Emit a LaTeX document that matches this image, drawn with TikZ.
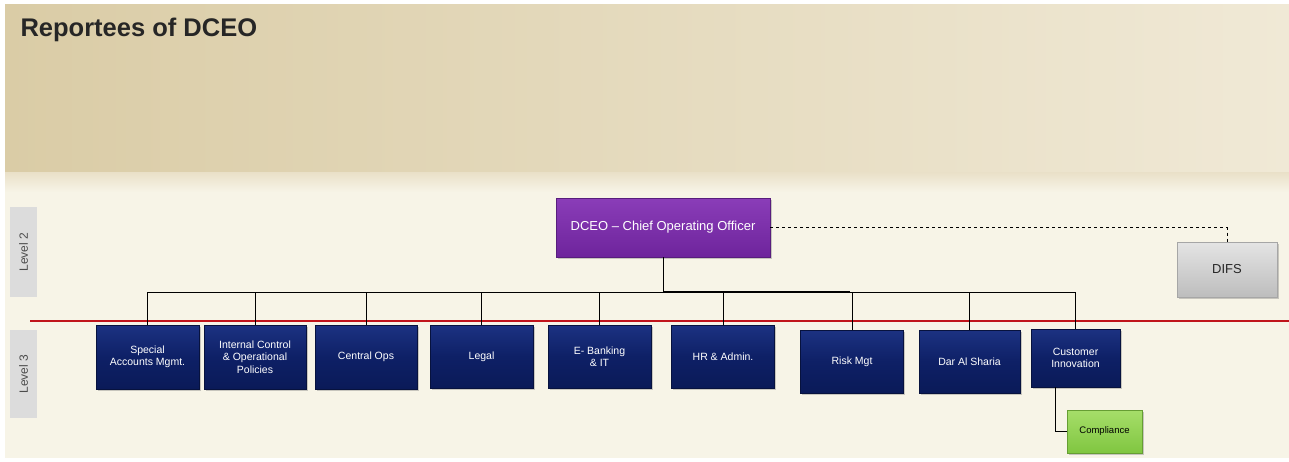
\documentclass[tikz,border=0pt]{standalone}
\usepackage{fontspec}
\setmainfont{Liberation Sans}
\usetikzlibrary{calc,shadows}
\definecolor{navyT}{HTML}{1C3282}
\definecolor{navyM}{HTML}{0E2066}
\definecolor{navyB}{HTML}{0A1A58}
\definecolor{purpT}{HTML}{8A3DB8}
\definecolor{purpB}{HTML}{6E249C}
\definecolor{grayT}{HTML}{E4E4E4}
\definecolor{grayB}{HTML}{BDBDBD}
\definecolor{grnT}{HTML}{A6DE6A}
\definecolor{grnB}{HTML}{80C640}
\definecolor{bgTanL}{HTML}{DACCA6}
\definecolor{bgTanR}{HTML}{F0E9D6}
\definecolor{bgLow}{HTML}{F7F4E7}
\definecolor{lvlgray}{HTML}{DCDCDC}
\definecolor{redline}{HTML}{C0141B}
\tikzset{
  base/.style={rectangle, align=center, inner sep=2pt, drop shadow={opacity=0.4, shadow xshift=1.5pt, shadow yshift=-1.5pt}},
  navybox/.style={base, top color=navyT, bottom color=navyB, middle color=navyM, draw=navyB!70!black, text=white, font=\fontsize{10.5}{12.5}\selectfont},
  lvl3/.style={navybox, minimum width=103pt, minimum height=64pt},
  dceobox/.style={base, top color=purpT, bottom color=purpB, draw=purpB!80!black, text=white, font=\fontsize{13}{15}\selectfont},
  graybox/.style={base, top color=grayT, bottom color=grayB, draw=gray!70, text=black!85, font=\fontsize{13}{15}\selectfont},
  grnbox/.style={base, top color=grnT, bottom color=grnB, draw=grnB!80!black, text=black, font=\fontsize{9.5}{11}\selectfont},
  lvlbox/.style={rectangle, fill=lvlgray, minimum width=27pt, text=black!70, font=\fontsize{12}{14}\selectfont},
  conn/.style={draw=black, line width=0.8pt},
}
\begin{document}
\begin{tikzpicture}[x=1pt,y=-1pt]
% background
\fill[white] (0,0) rectangle (1289,461);
\shade[left color=bgTanL, right color=bgTanR] (5,4) rectangle (1289,172);
\shade[top color=bgTanR!70!bgTanL, bottom color=bgLow] (5,172) rectangle (1289,192);
\fill[bgLow] (5,192) rectangle (1289,458);
\useasboundingbox (0,0) rectangle (1289,461);
% title
\node[anchor=west, font=\fontsize{25.5}{28}\bfseries\selectfont, text=black!85] (title) at (17,30) {Reportees of DCEO};
% level labels
\node[lvlbox, minimum height=90pt] (lv2) at (23.5,252) {\rotatebox{90}{Level 2}};
\node[lvlbox, minimum height=88pt] (lv3) at (23.5,374) {\rotatebox{90}{Level 3}};
% red line
\draw[redline, line width=1.4pt] (30,321) -- (1289,321);
% nodes
\node[dceobox, minimum width=214pt, minimum height=59pt] (dceo) at (663,227.5) {DCEO -- Chief Operating Officer};
\node[graybox, minimum width=100pt, minimum height=55pt] (difs) at (1227,269.5) {DIFS};
\node[lvl3] (sam) at (147.5,357) {Special\\Accounts Mgmt.};
\node[lvl3, minimum width=102pt] (icp) at (255,357) {Internal Control\\\& Operational\\Policies};
\node[lvl3, minimum width=102pt] (cops) at (366,357) {Central Ops};
\node[lvl3, minimum height=63pt] (legal) at (481.5,356.5) {Legal};
\node[lvl3, minimum height=63pt] (eb) at (599.5,356.5) {E- Banking\\\& IT};
\node[lvl3, minimum height=63pt] (hr) at (723,356.5) {HR \& Admin.};
\node[lvl3, minimum height=63pt] (risk) at (852,361.5) {Risk Mgt};
\node[lvl3, minimum width=101pt, minimum height=63pt] (dar) at (969.5,361.5) {Dar Al Sharia};
\node[lvl3, minimum width=89pt, minimum height=58pt] (ci) at (1075.5,358) {Customer\\Innovation};
\node[grnbox, minimum width=75pt, minimum height=43pt] (comp) at (1104.5,431.5) {Compliance};
% connectors
\coordinate (bus) at (663,292);
\draw[conn] (dceo.south) -- (bus);
\foreach \n in {sam,icp,cops,legal,eb,hr,risk,dar,ci}{
  \draw[conn] (\n.north) |- (bus);
}
\draw[conn, line width=1.6pt] (bus) -- (850,292);
\draw[conn, dashed] (dceo.east) -| (difs.north);
\draw[conn] ($(ci.south west)+(25,0)$) |- (comp.west);
\end{tikzpicture}
\end{document}
